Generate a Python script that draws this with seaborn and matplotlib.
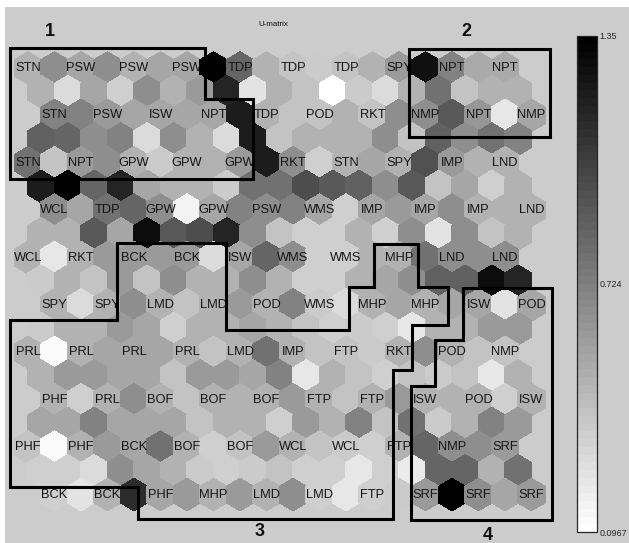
import numpy as np
import pandas as pd
import matplotlib
matplotlib.use("Agg")
import matplotlib.pyplot as plt
from matplotlib.path import Path
from matplotlib.colors import ListedColormap, Normalize
from matplotlib.patches import Rectangle
import seaborn as sns

# ---------------- data (U-matrix values, 19 x 19 hex cells) ----------------
vmin, vmax = 0.0967, 1.35
u00 = [0.47,0.66,0.54,0.66,0.47,0.54,0.54,1.35,0.85,0.47,0.41,0.37,0.41,0.47,0.60,1.26,0.72,0.51,0.51]
u01 = [0.47,0.28,0.54,0.35,0.66,0.47,0.60,1.16,0.25,0.47,0.41,0.10,0.37,0.28,0.47,0.79,0.41,0.47,0.47]
u02 = [0.72,0.72,0.60,0.54,0.54,0.54,0.54,1.20,0.47,0.41,0.41,0.47,0.41,0.66,0.66,0.91,0.62,0.22,0.54]
u03 = [0.87,0.85,0.66,0.72,0.28,0.66,0.47,0.28,1.20,0.41,0.47,0.47,0.47,0.66,0.41,0.87,0.66,0.79,0.72]
u04 = [0.79,0.41,0.60,0.66,0.47,0.37,0.47,0.47,0.60,1.20,0.66,0.35,0.47,0.54,0.47,0.95,0.60,0.47,0.47]
u05 = [1.20,1.35,0.85,1.16,0.54,0.47,0.47,0.37,0.79,0.79,0.97,0.91,0.87,0.66,0.91,0.41,0.54,0.35,0.47]
u06 = [0.66,0.54,0.79,0.85,0.66,0.16,0.54,0.72,0.66,0.72,0.54,0.35,0.54,0.60,0.54,0.66,0.47,0.47,0.47]
u07 = [0.47,0.47,0.91,0.54,1.29,0.91,0.97,1.16,0.66,0.41,0.35,0.35,0.47,0.35,0.66,0.25,0.66,0.41,0.47]
u08 = [0.47,0.22,0.47,0.60,0.60,0.60,0.60,0.28,0.54,0.85,0.66,0.35,0.35,0.47,0.47,0.79,0.66,0.66,0.66]
u09 = [0.37,0.47,0.41,0.60,0.41,0.66,0.47,0.47,0.66,0.47,0.35,0.35,0.47,0.54,0.66,0.87,0.87,1.29,1.16]
u10 = [0.47,0.28,0.47,0.66,0.47,0.41,0.47,0.60,0.47,0.72,0.37,0.28,0.47,0.54,0.47,0.54,0.54,0.25,0.54]
u11 = [0.37,0.47,0.47,0.60,0.54,0.35,0.47,0.47,0.54,0.47,0.41,0.35,0.37,0.35,0.22,0.47,0.47,0.60,0.60]
u12 = [0.47,0.12,0.47,0.54,0.54,0.54,0.47,0.41,0.47,0.79,0.47,0.41,0.41,0.37,0.47,0.66,0.47,0.41,0.41]
u13 = [0.47,0.60,0.60,0.54,0.54,0.41,0.60,0.60,0.54,0.72,0.22,0.47,0.41,0.35,0.41,0.37,0.41,0.22,0.47]
u14 = [0.47,0.35,0.47,0.66,0.47,0.41,0.47,0.47,0.47,0.60,0.47,0.41,0.47,0.60,0.47,0.47,0.47,0.35,0.47]
u15 = [0.54,0.54,0.72,0.54,0.54,0.54,0.41,0.47,0.47,0.35,0.60,0.47,0.72,0.41,0.79,0.37,0.47,0.72,0.60]
u16 = [0.41,0.12,0.47,0.60,0.54,0.79,0.47,0.35,0.41,0.60,0.47,0.41,0.37,0.35,0.47,0.85,0.66,0.66,0.60]
u17 = [0.35,0.35,0.28,0.66,0.54,0.47,0.37,0.35,0.37,0.41,0.35,0.35,0.22,0.35,0.20,0.85,0.85,0.47,0.79]
u18 = [0.35,0.25,0.47,1.12,0.54,0.60,0.47,0.60,0.47,0.66,0.35,0.22,0.35,0.37,0.60,1.35,0.66,0.54,0.60]
umatrix = [u00,u01,u02,u03,u04,u05,u06,u07,u08,u09,u10,u11,u12,u13,u14,u15,u16,u17,u18]

lab0 = ["STN","PSW","PSW","PSW","TDP","TDP","TDP","SPY","NPT","NPT"]
lab1 = ["STN","PSW","ISW","NPT","TDP","POD","RKT","NMP","NPT","NMP"]
lab2 = ["STN","NPT","GPW","GPW","GPW","RKT","STN","SPY","IMP","LND"]
lab3 = ["WCL","TDP","GPW","GPW","PSW","WMS","IMP","IMP","IMP","LND"]
lab4 = ["WCL","RKT","BCK","BCK","ISW","WMS","WMS","MHP","LND","LND"]
lab5 = ["SPY","SPY","LMD","LMD","POD","WMS","MHP","MHP","ISW","POD"]
lab6 = ["PRL","PRL","PRL","PRL","LMD","IMP","FTP","RKT","POD","NMP"]
lab7 = ["PHF","PRL","BOF","BOF","BOF","FTP","FTP","ISW","POD","ISW"]
lab8 = ["PHF","PHF","BCK","BOF","BOF","WCL","WCL","FTP","NMP","SRF"]
lab9 = ["BCK","BCK","PHF","MHP","LMD","LMD","FTP","SRF","SRF","SRF"]
unit_labels = [lab0,lab1,lab2,lab3,lab4,lab5,lab6,lab7,lab8,lab9]

cbar_ticks = [0.0967, 0.724, 1.35]
cbar_ticklabels = ["0.0967", "0.724", "1.35"]

# ---------------- figure ----------------
sns.set_style("white")
plt.rcParams['font.family'] = ['Liberation Sans', 'DejaVu Sans']

W, H, DPI = 629, 543, 100
fig = plt.figure(figsize=(W / DPI, H / DPI), dpi=DPI, facecolor='#cccccc')
ax = fig.add_axes([0, 0, 1, 1])
ax.set_xlim(0, W)
ax.set_ylim(H, 0)
ax.axis('off')

# white strips at the top/left border of the screenshot
fig.patches.append(Rectangle((0, 1 - 6.5 / H), 1, 6.5 / H, transform=fig.transFigure,
                             facecolor='white', edgecolor='none', zorder=10))
fig.patches.append(Rectangle((0, 0), 5 / W, 1, transform=fig.transFigure,
                             facecolor='white', edgecolor='none', zorder=10))

# hex grid geometry (pixels)
x0, y0, dx, dy = 28.0, 68.0, 26.5, 23.7
row_shift = [0.0, 0.5, 1.0, 0.5]
recs = []
for i, row in enumerate(umatrix):
    for k, v in enumerate(row):
        recs.append(dict(x=x0 + dx * (k + row_shift[i % 4]), y=y0 + dy * i, u=v))
df = pd.DataFrame(recs)

cmap = ListedColormap(plt.cm.gray_r(np.linspace(0, 1, 64)))
hex_h = dy * 4.0 / 3.0
wf = dx / hex_h
hex_path = Path([(0, 1), (wf, 0.5), (wf, -0.5), (0, -1), (-wf, -0.5), (-wf, 0.5), (0, 1)], closed=True)
s = (hex_h * 72.0 / DPI * 1.03) ** 2

sns.scatterplot(data=df, x='x', y='y', hue='u', palette=cmap, hue_norm=(vmin, vmax),
                marker=hex_path, s=s, linewidth=0, edgecolor='none', legend=False,
                ax=ax, antialiased=False, zorder=2)
ax.set_xlim(0, W)
ax.set_ylim(H, 0)
ax.axis('off')

# unit labels
for r, labs in enumerate(unit_labels):
    for c, t in enumerate(labs):
        ax.text(x0 + 2 * dx * c + dx * (r % 2), y0 + 2 * dy * r, t, ha='center', va='center',
                fontsize=9.3, color='#151515', zorder=4)

# cluster outlines
boxes = [
    [(10, 48), (205, 48), (205, 99), (253, 99), (253, 179), (10, 179), (10, 48)],
    [(409, 49), (550, 49), (550, 137), (409, 137), (409, 49)],
    [(10, 320), (117, 320), (117, 243), (226, 243), (226, 330), (349, 330), (349, 287),
     (374, 287), (374, 244), (418, 244), (418, 287), (448, 287), (448, 325), (412, 325),
     (412, 370), (393, 370), (393, 519), (138, 519), (138, 487), (10, 487), (10, 320)],
    [(463, 288), (552, 288), (552, 520), (411, 520), (411, 386), (435, 386), (435, 340),
     (463, 340), (463, 288)],
]
for b in boxes:
    xs, ys = zip(*b)
    ax.plot(xs, ys, color='black', lw=2.2, solid_joinstyle='miter', zorder=5)

for t, (tx, ty) in zip(["1", "2", "3", "4"], [(50, 32), (466, 32), (260, 532), (488, 535)]):
    ax.text(tx, ty, t, ha='center', va='center', fontsize=13, fontweight='bold', color='#111111')

ax.text(273, 25, "U-matrix", ha='center', va='center', fontsize=5.7, color='#111111')

# colorbar
cax = fig.add_axes([577 / W, 1 - 532 / H, 20 / W, (532 - 36) / H])
sm = plt.cm.ScalarMappable(norm=Normalize(vmin, vmax), cmap=cmap)
cb = fig.colorbar(sm, cax=cax, ticks=cbar_ticks)
cb.ax.set_yticklabels(cbar_ticklabels, fontsize=6.5)
cb.ax.tick_params(direction='in', length=4, width=0.6, left=True, right=True, pad=2)
cb.outline.set_linewidth(0.9)

fig.savefig("out.png", dpi=DPI, facecolor=fig.get_facecolor())
